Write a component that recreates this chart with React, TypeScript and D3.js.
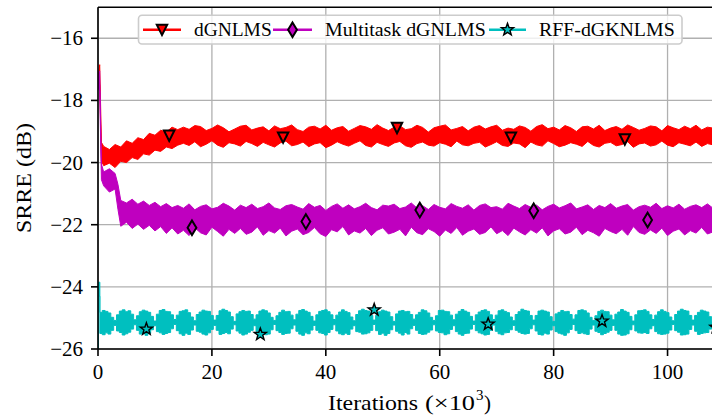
import React from "react";
import * as d3 from "d3";

const width = 712;
const height = 419;
const FONT = "Liberation Serif, DejaVu Serif, Times New Roman, serif";

const xTicks = [0, 20, 40, 60, 80, 100];
const yTicks = [-26, -24, -22, -20, -18, -16];

const names = ["dGNLMS", "Multitask dGNLMS", "RFF-dGKNLMS"];
const colors = ["#ff0000", "#bf00bf", "#00bfbf"];

// dGNLMS band (upper / lower edge of the noisy curve), iterations x1e3
const dgnIter = [0, 0.3, 0.6,
  1, 2, 3, 4, 5, 6, 7, 8, 9, 10, 11, 12, 13, 14,
  15, 16, 17, 18, 19, 20, 21, 22, 23, 24, 25, 26, 27, 28, 29, 30, 31, 32, 33, 34,
  35, 36, 37, 38, 39, 40, 41, 42, 43, 44, 45, 46, 47, 48, 49, 50, 51, 52, 53, 54,
  55, 56, 57, 58, 59, 60, 61, 62, 63, 64, 65, 66, 67, 68, 69, 70, 71, 72, 73, 74,
  75, 76, 77, 78, 79, 80, 81, 82, 83, 84, 85, 86, 87, 88, 89, 90, 91, 92, 93, 94,
  95, 96, 97, 98, 99, 100, 101, 102, 103, 104, 105, 106, 107, 108];
const dgnHigh = [-17.3, -16.85, -19.35,
  -19.48, -19.58, -19.42, -19.50, -19.30, -19.38, -19.20, -19.26, -19.06, -19.12, -18.96, -19.02, -18.86, -18.94,
  -18.86, -18.93, -18.81, -18.84, -18.97, -18.90, -18.79, -18.88, -19.01, -18.92,
  -18.83, -18.80, -18.95, -18.89, -18.85, -18.98, -18.82, -18.91, -18.87, -18.79,
  -18.94, -19.00, -18.86, -18.83, -18.92, -18.80, -18.96, -18.88, -18.84, -18.99,
  -18.90, -18.81, -18.85, -18.93, -18.78, -18.89, -18.97, -18.86, -18.82, -18.94,
  -18.91, -18.80, -18.87, -19.02, -18.88, -18.83, -18.79, -18.95, -18.90, -18.84,
  -18.98, -18.86, -18.81, -18.92, -18.85, -18.80, -18.96, -18.89, -18.93, -18.82,
  -18.87, -18.99, -18.84, -18.78, -18.91, -18.86, -18.95, -18.81, -18.88, -19.00,
  -18.85, -18.83, -18.92, -18.80, -18.97, -18.89, -18.84, -18.93, -18.79, -18.87,
  -18.96, -18.90, -18.82, -18.85, -18.98, -18.81, -18.88, -18.94, -18.83, -18.91,
  -18.80, -18.95, -18.86, -18.89];
const dgnLow = [-17.6, -17.5, -19.95,
  -20.10, -20.02, -20.16, -19.96, -20.00, -19.84, -19.90, -19.72, -19.76, -19.60, -19.64, -19.50, -19.55, -19.44,
  -19.38, -19.45, -19.33, -19.49, -19.41, -19.30, -19.44, -19.51, -19.36, -19.40,
  -19.47, -19.32, -19.39, -19.48, -19.35, -19.43, -19.50, -19.37, -19.31, -19.46,
  -19.42, -19.34, -19.49, -19.40, -19.36, -19.52, -19.44, -19.33, -19.41, -19.47,
  -19.38, -19.30, -19.45, -19.50, -19.35, -19.42, -19.48, -19.37, -19.32, -19.46,
  -19.51, -19.39, -19.34, -19.44, -19.47, -19.36, -19.41, -19.49, -19.31, -19.43,
  -19.46, -19.38, -19.35, -19.50, -19.42, -19.33, -19.45, -19.48, -19.37, -19.40,
  -19.52, -19.34, -19.43, -19.47, -19.30, -19.39, -19.49, -19.44, -19.36, -19.41,
  -19.48, -19.32, -19.45, -19.50, -19.38, -19.35, -19.46, -19.42, -19.33, -19.51,
  -19.40, -19.37, -19.47, -19.43, -19.31, -19.44, -19.49, -19.36, -19.41, -19.46,
  -19.34, -19.48, -19.39, -19.43];
const dgnMarkIter = [12.5, 32.5, 52.5, 72.5, 92.5];
const dgnMarkVal = [-19.13, -19.19, -18.88, -19.19, -19.25];

// Multitask dGNLMS band
const mtIter = [0, 0.3, 0.6, 1, 2, 3, 3.5,
  4, 5, 6, 7, 8, 9, 10, 11, 12, 13, 14, 15, 16, 17, 18, 19, 20, 21, 22, 23,
  24, 25, 26, 27, 28, 29, 30, 31, 32, 33, 34, 35, 36, 37, 38, 39, 40, 41, 42, 43,
  44, 45, 46, 47, 48, 49, 50, 51, 52, 53, 54, 55, 56, 57, 58, 59, 60, 61, 62, 63,
  64, 65, 66, 67, 68, 69, 70, 71, 72, 73, 74, 75, 76, 77, 78, 79, 80, 81, 82, 83,
  84, 85, 86, 87, 88, 89, 90, 91, 92, 93, 94, 95, 96, 97, 98, 99, 100, 101, 102, 103,
  104, 105, 106, 107, 108];
const mtHigh = [-17.3, -17.05, -20.05, -20.30, -20.20, -20.35, -20.70,
  -21.22, -21.30, -21.18, -21.34, -21.24, -21.38, -21.28, -21.42, -21.32, -21.45,
  -21.38, -21.47, -21.33, -21.52, -21.41, -21.36, -21.49, -21.44, -21.31, -21.40,
  -21.53, -21.37, -21.45, -21.34, -21.48, -21.42, -21.30, -21.46, -21.51, -21.39,
  -21.35, -21.43, -21.50, -21.32, -21.44, -21.38, -21.54, -21.41, -21.33, -21.47,
  -21.36, -21.49, -21.42, -21.31, -21.45, -21.52, -21.37, -21.40, -21.34, -21.48,
  -21.43, -21.30, -21.46, -21.39, -21.51, -21.35, -21.44, -21.49, -21.32, -21.41,
  -21.47, -21.36, -21.53, -21.38, -21.33, -21.45, -21.42, -21.50, -21.31, -21.40,
  -21.48, -21.35, -21.44, -21.37, -21.52, -21.41, -21.34, -21.46, -21.39, -21.30,
  -21.49, -21.43, -21.36, -21.51, -21.38, -21.45, -21.32, -21.47, -21.40, -21.35,
  -21.53, -21.42, -21.37, -21.44, -21.31, -21.48, -21.39, -21.46, -21.34, -21.50,
  -21.41, -21.36, -21.45, -21.33, -21.47];
const mtLow = [-17.6, -17.7, -20.55, -20.75, -20.95, -20.85, -21.50,
  -22.05, -21.92, -22.12, -21.98, -22.15, -22.02, -22.20, -22.06, -22.28, -22.10,
  -22.30, -22.18, -22.35, -22.10, -22.26, -22.33, -22.08, -22.22, -22.37, -22.15,
  -22.28, -22.12, -22.31, -22.24, -22.07, -22.34, -22.19, -22.27, -22.11, -22.36,
  -22.21, -22.14, -22.32, -22.25, -22.09, -22.29, -22.38, -22.16, -22.23, -22.06,
  -22.33, -22.20, -22.27, -22.12, -22.35, -22.18, -22.10, -22.30, -22.24, -22.15,
  -22.36, -22.08, -22.26, -22.32, -22.13, -22.22, -22.37, -22.17, -22.28, -22.09,
  -22.34, -22.21, -22.14, -22.31, -22.25, -22.07, -22.29, -22.19, -22.35, -22.11,
  -22.23, -22.33, -22.16, -22.27, -22.10, -22.36, -22.20, -22.13, -22.30, -22.24,
  -22.08, -22.32, -22.18, -22.26, -22.37, -22.12, -22.22, -22.29, -22.15, -22.34,
  -22.06, -22.25, -22.31, -22.17, -22.28, -22.11, -22.35, -22.21, -22.14, -22.33,
  -22.19, -22.27, -22.09, -22.30, -22.23];
const mtMarkIter = [16.5, 36.5, 56.5, 76.5, 96.5];
const mtMarkVal = [-22.1, -21.9, -21.53, -21.55, -21.85];

// RFF-dGKNLMS band (sampled finer, it has slow humps)
const rffIter = [0, 0.15,
  0.5, 1, 1.5, 2, 2.5, 3, 3.5, 4, 4.5, 5, 5.5, 6, 6.5, 7, 7.5, 8, 8.5, 9, 9.5, 10,
  10.5, 11, 11.5, 12, 12.5, 13, 13.5, 14, 14.5, 15, 15.5, 16, 16.5, 17, 17.5, 18, 18.5, 19, 19.5, 20,
  20.5, 21, 21.5, 22, 22.5, 23, 23.5, 24, 24.5, 25, 25.5, 26, 26.5, 27, 27.5, 28, 28.5, 29, 29.5, 30,
  30.5, 31, 31.5, 32, 32.5, 33, 33.5, 34, 34.5, 35, 35.5, 36, 36.5, 37, 37.5, 38, 38.5, 39, 39.5, 40,
  40.5, 41, 41.5, 42, 42.5, 43, 43.5, 44, 44.5, 45, 45.5, 46, 46.5, 47, 47.5, 48, 48.5, 49, 49.5, 50,
  50.5, 51, 51.5, 52, 52.5, 53, 53.5, 54, 54.5, 55, 55.5, 56, 56.5, 57, 57.5, 58, 58.5, 59, 59.5, 60,
  60.5, 61, 61.5, 62, 62.5, 63, 63.5, 64, 64.5, 65, 65.5, 66, 66.5, 67, 67.5, 68, 68.5, 69, 69.5, 70,
  70.5, 71, 71.5, 72, 72.5, 73, 73.5, 74, 74.5, 75, 75.5, 76, 76.5, 77, 77.5, 78, 78.5, 79, 79.5, 80,
  80.5, 81, 81.5, 82, 82.5, 83, 83.5, 84, 84.5, 85, 85.5, 86, 86.5, 87, 87.5, 88, 88.5, 89, 89.5, 90,
  90.5, 91, 91.5, 92, 92.5, 93, 93.5, 94, 94.5, 95, 95.5, 96, 96.5, 97, 97.5, 98, 98.5, 99, 99.5, 100,
  100.5, 101, 101.5, 102, 102.5, 103, 103.5, 104, 104.5, 105, 105.5, 106, 106.5, 107, 107.5, 108];
const rffHigh = [-26.3, -23.85,
  -24.82, -24.76, -24.79, -24.84, -24.98, -25.08, -24.90,
  -24.78, -24.74, -24.80, -24.77, -24.88, -25.06, -24.93,
  -24.80, -24.75, -24.78, -24.82, -24.95, -25.10, -24.88,
  -24.76, -24.73, -24.79, -24.80, -24.90, -25.05, -24.91,
  -24.79, -24.77, -24.74, -24.83, -24.97, -25.09, -24.89,
  -24.81, -24.75, -24.78, -24.79, -24.92, -25.07, -24.92,
  -24.77, -24.72, -24.76, -24.81, -24.96, -25.11, -24.87,
  -24.80, -24.76, -24.79, -24.78, -24.89, -25.04, -24.90,
  -24.78, -24.74, -24.77, -24.84, -24.98, -25.08, -24.93,
  -24.82, -24.75, -24.80, -24.79, -24.91, -25.06, -24.88,
  -24.76, -24.73, -24.78, -24.82, -24.95, -25.10, -24.90,
  -24.79, -24.76, -24.74, -24.80, -24.90, -25.05, -24.91,
  -24.81, -24.74, -24.79, -24.83, -24.97, -25.09, -24.89,
  -24.77, -24.72, -24.76, -24.78, -24.92, -25.07, -24.92,
  -24.80, -24.75, -24.78, -24.81, -24.96, -25.11, -24.87,
  -24.78, -24.76, -24.80, -24.79, -24.89, -25.04, -24.90,
  -24.82, -24.74, -24.77, -24.84, -24.98, -25.08, -24.93,
  -24.76, -24.75, -24.79, -24.80, -24.91, -25.06, -24.88,
  -24.79, -24.73, -24.78, -24.82, -24.95, -25.10, -24.90,
  -24.81, -24.76, -24.74, -24.79, -24.90, -25.05, -24.91,
  -24.77, -24.74, -24.79, -24.83, -24.97, -25.09, -24.89,
  -24.80, -24.72, -24.76, -24.78, -24.92, -25.07, -24.92,
  -24.78, -24.75, -24.78, -24.81, -24.96, -25.11, -24.87,
  -24.82, -24.76, -24.80, -24.79, -24.89, -25.04, -24.90,
  -24.76, -24.74, -24.77, -24.84, -24.98, -25.08, -24.93,
  -24.79, -24.75, -24.79, -24.80, -24.91, -25.06, -24.88,
  -24.81, -24.73, -24.78, -24.82, -24.95, -25.10, -24.90,
  -24.77, -24.76, -24.74, -24.79, -24.90, -25.05, -24.91,
  -24.80, -24.74, -24.79, -24.83, -24.97, -25.09, -24.89,
  -24.78, -24.72, -24.76, -24.78, -24.92, -25.07, -24.92,
  -24.82, -24.75, -24.78, -24.81, -24.96, -25.11];
const rffLow = [-26.4, -24.3,
  -25.50, -25.54, -25.48, -25.52, -25.40, -25.24, -25.42,
  -25.47, -25.55, -25.51, -25.46, -25.36, -25.22, -25.40,
  -25.52, -25.49, -25.56, -25.50, -25.38, -25.25, -25.44,
  -25.48, -25.53, -25.50, -25.47, -25.35, -25.21, -25.41,
  -25.51, -25.56, -25.49, -25.53, -25.39, -25.23, -25.43,
  -25.46, -25.52, -25.55, -25.48, -25.37, -25.24, -25.40,
  -25.53, -25.50, -25.47, -25.51, -25.36, -25.22, -25.42,
  -25.49, -25.55, -25.52, -25.46, -25.40, -25.25, -25.44,
  -25.50, -25.48, -25.54, -25.52, -25.38, -25.21, -25.41,
  -25.47, -25.53, -25.50, -25.49, -25.35, -25.23, -25.43,
  -25.52, -25.56, -25.48, -25.51, -25.39, -25.24, -25.40,
  -25.48, -25.50, -25.55, -25.47, -25.37, -25.22, -25.42,
  -25.51, -25.54, -25.49, -25.53, -25.36, -25.25, -25.44,
  -25.46, -25.52, -25.51, -25.48, -25.40, -25.21, -25.41,
  -25.53, -25.49, -25.56, -25.50, -25.38, -25.23, -25.43,
  -25.49, -25.55, -25.47, -25.52, -25.35, -25.24, -25.40,
  -25.50, -25.53, -25.52, -25.46, -25.39, -25.22, -25.42,
  -25.47, -25.48, -25.54, -25.51, -25.37, -25.25, -25.44,
  -25.52, -25.56, -25.50, -25.49, -25.36, -25.21, -25.41,
  -25.48, -25.51, -25.55, -25.53, -25.40, -25.23, -25.43,
  -25.51, -25.54, -25.48, -25.47, -25.38, -25.24, -25.40,
  -25.46, -25.50, -25.52, -25.50, -25.35, -25.22, -25.42,
  -25.53, -25.55, -25.49, -25.52, -25.39, -25.25, -25.44,
  -25.49, -25.52, -25.56, -25.48, -25.37, -25.21, -25.41,
  -25.50, -25.48, -25.51, -25.53, -25.36, -25.23, -25.43,
  -25.47, -25.54, -25.50, -25.46, -25.40, -25.24, -25.40,
  -25.52, -25.56, -25.55, -25.51, -25.38, -25.22, -25.42,
  -25.48, -25.49, -25.47, -25.50, -25.35, -25.25, -25.44,
  -25.51, -25.53, -25.52, -25.49, -25.39, -25.21, -25.41,
  -25.46, -25.55, -25.54, -25.52, -25.37, -25.23, -25.43,
  -25.53, -25.50, -25.48, -25.47, -25.36, -25.24];
const rffMarkIter = [8.5, 28.5, 48.5, 68.5, 88.5, 108.5];
const rffMarkVal = [-25.36, -25.53, -24.74, -25.2, -25.1, -25.3];

const x = d3.scaleLinear().domain([0, 110]).range([98, 724.5]);
const y = d3.scaleLinear().domain([-26, -15]).range([349, 7.2]);

const bandPath = (iters: number[], hi: number[], lo: number[], curve: d3.CurveFactory) =>
  d3.area<number>()
    .x(i => x(iters[i]))
    .y0(i => y(lo[i]))
    .y1(i => y(hi[i]))
    .curve(curve)(d3.range(iters.length)) || "";

// marker shapes
const triangle = (cx: number, cy: number) =>
  `M${cx - 5.2},${cy - 5}L${cx + 5.2},${cy - 5}L${cx},${cy + 5.4}Z`;
const diamond = (cx: number, cy: number) =>
  `M${cx},${cy - 7.3}L${cx + 4.4},${cy}L${cx},${cy + 7.3}L${cx - 4.4},${cy}Z`;
const star = (cx: number, cy: number) => {
  const pts = d3.range(10).map(k => {
    const r = k % 2 === 0 ? 6.4 : 2.6;
    const a = -Math.PI / 2 + (k * Math.PI) / 5;
    return [cx + r * Math.cos(a), cy + r * Math.sin(a)];
  });
  return "M" + pts.map(p => p.join(",")).join("L") + "Z";
};
const shapes = [triangle, diamond, star];
const strokeW = [2, 2, 1.4];

const series = [
  { iter: dgnIter, hi: dgnHigh, lo: dgnLow, mx: dgnMarkIter, my: dgnMarkVal, curve: d3.curveLinear },
  { iter: mtIter, hi: mtHigh, lo: mtLow, mx: mtMarkIter, my: mtMarkVal, curve: d3.curveLinear },
  { iter: rffIter, hi: rffHigh, lo: rffLow, mx: rffMarkIter, my: rffMarkVal, curve: d3.curveStep },
];

// legend layout
const legendHandles = [[143, 181], [273, 312], [489, 526]];
const legendText = [[194, 77.7], [325, 160.7], [539, 135.7]];

const txt = { fontFamily: FONT };

export default function App() {
  const left = x.range()[0];
  const right = x.range()[1];
  const top = y.range()[1];
  const bottom = y.range()[0];
  return (
    <svg width={width} height={height} style={{ position: "absolute", left: 0, top: 0 }}>
      <defs>
        <clipPath id="plot">
          <rect x={left} y={top} width={right - left} height={bottom - top} />
        </clipPath>
      </defs>
      <rect width={width} height={height} fill="#fff" />

      {/* grid */}
      {xTicks.map(t => (
        <line key={"gx" + t} x1={x(t)} x2={x(t)} y1={top} y2={bottom} stroke="#b0b0b0" strokeWidth={1.3} />
      ))}
      {yTicks.map(t => (
        <line key={"gy" + t} x1={left} x2={right} y1={y(t)} y2={y(t)} stroke="#b0b0b0" strokeWidth={1.3} />
      ))}

      <g clipPath="url(#plot)">
        {series.map((s, i) => (
          <g key={names[i]}>
            <path d={bandPath(s.iter, s.hi, s.lo, s.curve)} fill={colors[i]} stroke={colors[i]} strokeWidth={1} />
            {s.mx.map((m, j) => (
              <path key={j} d={shapes[i](x(m), y(s.my[j]))} fill={colors[i]} stroke="#000" strokeWidth={strokeW[i]} />
            ))}
          </g>
        ))}
      </g>

      {/* spines */}
      <line x1={left} x2={left} y1={top} y2={bottom} stroke="#000" strokeWidth={1.6} />
      <line x1={left} x2={right} y1={bottom} y2={bottom} stroke="#000" strokeWidth={1.6} />
      <line x1={left} x2={right} y1={top} y2={top} stroke="#000" strokeWidth={1.6} />

      {/* ticks */}
      {xTicks.map(t => (
        <g key={"tx" + t}>
          <line x1={x(t)} x2={x(t)} y1={bottom} y2={bottom + 7} stroke="#000" strokeWidth={1.6} />
          <text x={x(t)} y={379} textAnchor="middle" fontSize={21} style={txt}>{t}</text>
        </g>
      ))}
      {yTicks.map(t => (
        <g key={"ty" + t}>
          <line x1={left - 7} x2={left} y1={y(t)} y2={y(t)} stroke="#000" strokeWidth={1.6} />
          <text x={83} y={y(t) + 7} textAnchor="end" fontSize={21} style={txt}>
            {t < 0 ? "\u2212" + Math.abs(t) : t}
          </text>
        </g>
      ))}

      {/* axis labels */}
      <text transform={`translate(31,${(top + bottom) / 2}) rotate(-90)`} textAnchor="middle"
        fontSize={21} style={txt} textLength={110} lengthAdjust="spacingAndGlyphs">SRRE (dB)</text>
      <text x={328} y={410} fontSize={21} style={txt} textLength={90} lengthAdjust="spacingAndGlyphs">Iterations</text>
      <text x={425} y={410} fontSize={21} style={txt} textLength={50} lengthAdjust="spacingAndGlyphs">(×10</text>
      <text x={476} y={400} fontSize={15} style={txt}>3</text>
      <text x={484} y={410} fontSize={21} style={txt}>)</text>

      {/* legend */}
      <rect x={138.5} y={15.3} width={543.5} height={28.7} rx={3.5} fill="#fff" fillOpacity={0.8}
        stroke="#cccccc" strokeWidth={1.6} />
      {names.map((n, i) => {
        const [h0, h1] = legendHandles[i];
        const cy = 29.7;
        return (
          <g key={"lg" + n}>
            <line x1={h0} x2={h1} y1={cy} y2={cy} stroke={colors[i]} strokeWidth={2.6} />
            <path d={shapes[i]((h0 + h1) / 2, cy)} fill={colors[i]} stroke="#000" strokeWidth={strokeW[i]} />
            <text x={legendText[i][0]} y={36} fontSize={18.5} style={txt} textLength={legendText[i][1]}
              lengthAdjust="spacingAndGlyphs">{n}</text>
          </g>
        );
      })}
    </svg>
  );
}
